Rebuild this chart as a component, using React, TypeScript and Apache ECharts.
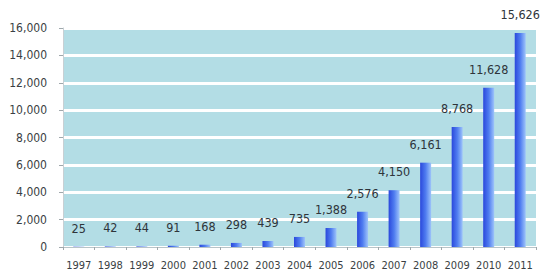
import React, { useEffect, useRef } from "react";
import * as echarts from "echarts";

const years = ["1997", "1998", "1999", "2000", "2001", "2002", "2003", "2004", "2005", "2006", "2007", "2008", "2009", "2010", "2011"];
const values = [25, 42, 44, 91, 168, 298, 439, 735, 1388, 2576, 4150, 6161, 8768, 11628, 15626];
const yMin = 0;
const yMax = 16000;
const yStep = 2000;

export default function App() {
  const ref = useRef<HTMLDivElement>(null);
  useEffect(() => {
    if (!ref.current) return;
    const chart = echarts.init(ref.current, null, { renderer: "svg" });
    chart.setOption({
      animation: false,
      backgroundColor: "#ffffff",
      textStyle: { fontFamily: "DejaVu Sans Condensed, sans-serif" },
      grid: { left: 63, right: 6, top: 28, bottom: 30, containLabel: false },
      xAxis: {
        type: "category",
        data: years,
        axisLine: { show: true, lineStyle: { color: "#b8c4c8", width: 1 } },
        axisTick: { show: true, length: 3, lineStyle: { color: "#a0a8ac" } },
        axisLabel: { color: "#3a3f44", fontSize: 11, margin: 13, interval: 0 },
      },
      yAxis: {
        type: "value",
        min: yMin,
        max: yMax,
        interval: yStep,
        axisLine: { show: true, lineStyle: { color: "#c8d0d4", width: 1 } },
        axisTick: { show: true, length: 4, lineStyle: { color: "#a0a8ac" } },
        axisLabel: {
          color: "#3a3f44",
          fontSize: 12,
          margin: 16,
          formatter: (v: number) => v.toLocaleString("en-US"),
        },
        splitLine: { show: true, lineStyle: { color: "#ffffff", width: 3 } },
        splitArea: { show: true, areaStyle: { color: ["#b3dde5", "#b3dde5"] } },
      },
      series: [
        {
          type: "bar",
          data: values,
          barWidth: 11,
          itemStyle: {
            color: new echarts.graphic.LinearGradient(0, 0, 1, 0, [
              { offset: 0, color: "#2a48dc" },
              { offset: 0.5, color: "#4f7cf0" },
              { offset: 1, color: "#9ec4fa" },
            ]),
          },
          label: {
            show: true,
            position: "top",
            distance: 12,
            color: "#2e343a",
            fontSize: 12.5,
            formatter: (p: any) => Number(p.value).toLocaleString("en-US"),
          },
        },
      ],
    });
    return () => chart.dispose();
  }, []);
  return <div ref={ref} style={{ width: 542, height: 277, position: "absolute", left: 0, top: 0 }} />;
}
